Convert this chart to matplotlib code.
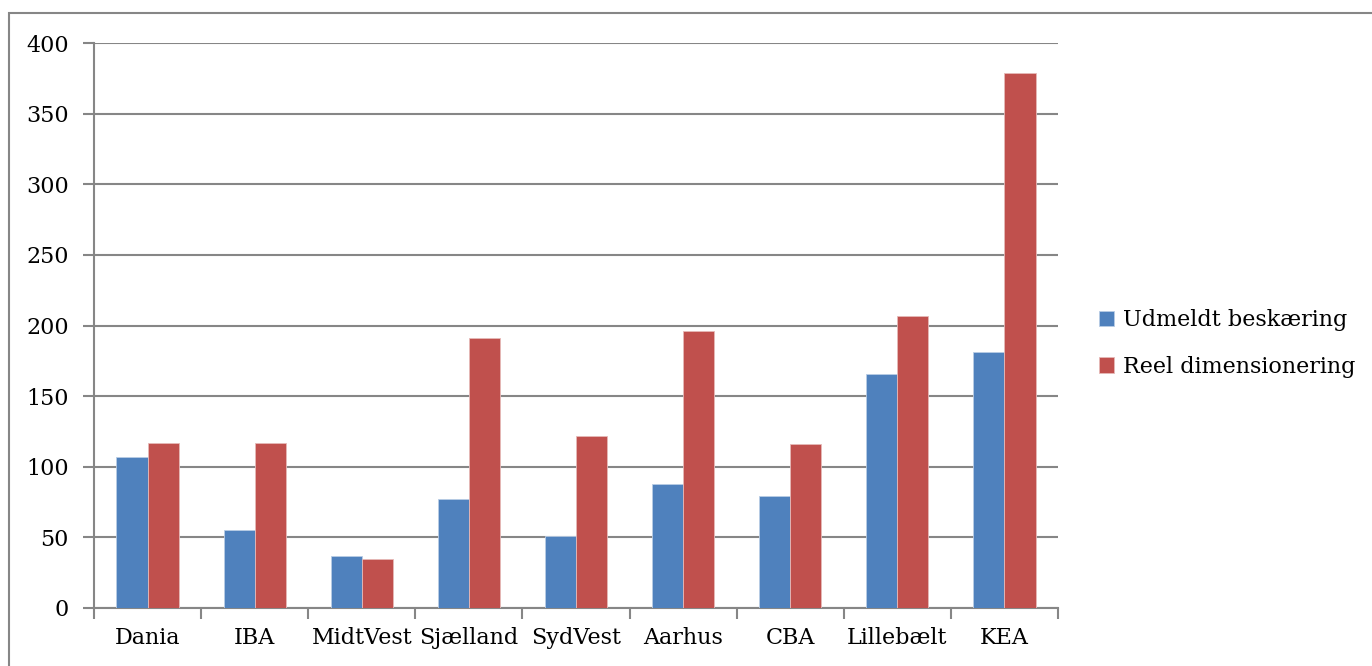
import matplotlib
matplotlib.use("Agg")
import matplotlib.pyplot as plt
from matplotlib.patches import Rectangle
import numpy as np

categories = ["Dania", "IBA", "MidtVest", "Sjælland", "SydVest", "Aarhus", "CBA", "Lillebælt", "KEA"]
udmeldt = [107, 55, 37, 77, 51, 88, 79, 166, 181]
reel = [117, 117, 35, 191, 122, 196, 116, 207, 379]
series_names = ["Udmeldt beskæring", "Reel dimensionering"]
yticks = [0, 50, 100, 150, 200, 250, 300, 350, 400]

W, H = 1372, 666
fig = plt.figure(figsize=(W / 100, H / 100), dpi=100)
plt.rcParams['font.family'] = ['DejaVu Serif']
FS = 16

# outer chart border (top and left visible, rest off-canvas)
fig.patches.append(Rectangle((9 / W, -0.5), 2, (H - 13) / H + 0.5, transform=fig.transFigure,
                             fill=False, edgecolor="#868686", linewidth=1.5))

ax = fig.add_axes([94 / W, (H - 608) / H, (1058 - 94) / W, (608 - 43) / H])
x = np.arange(len(categories))
bw = 0.29
ax.bar(x - bw / 2, udmeldt, width=bw, color="#4F81BD", edgecolor="#B9CDE5", linewidth=0.6,
       label=series_names[0], zorder=3)
ax.bar(x + bw / 2, reel, width=bw, color="#C0504D", edgecolor="#E6B9B8", linewidth=0.6,
       label=series_names[1], zorder=3)

ax.set_xlim(-0.5, len(categories) - 0.5)
ax.set_ylim(0, 400)
ax.set_yticks(yticks)
ax.set_yticklabels([str(v) for v in yticks], fontsize=FS)
ax.yaxis.grid(True, color="#868686", linewidth=1.5, zorder=0)
ax.set_xticks(x)
ax.set_xticklabels(categories, fontsize=FS)
ax.set_xticks(np.arange(len(categories) + 1) - 0.5, minor=True)
ax.tick_params(axis="x", which="major", length=0, pad=14)
ax.tick_params(axis="x", which="minor", length=8, width=1.5, color="#868686")
ax.tick_params(axis="y", length=8, width=1.5, color="#868686", pad=10)
for s in ["top", "right"]:
    ax.spines[s].set_visible(False)
for s in ["left", "bottom"]:
    ax.spines[s].set_color("#868686")
    ax.spines[s].set_linewidth(1.5)

leg = ax.legend(loc="center left", bbox_to_anchor=(1.033, 0.468), frameon=False, fontsize=FS,
                handlelength=0.7, handleheight=0.7, handletextpad=0.4, labelspacing=1.12,
                borderaxespad=0)

fig.savefig("out.png", dpi=100)
